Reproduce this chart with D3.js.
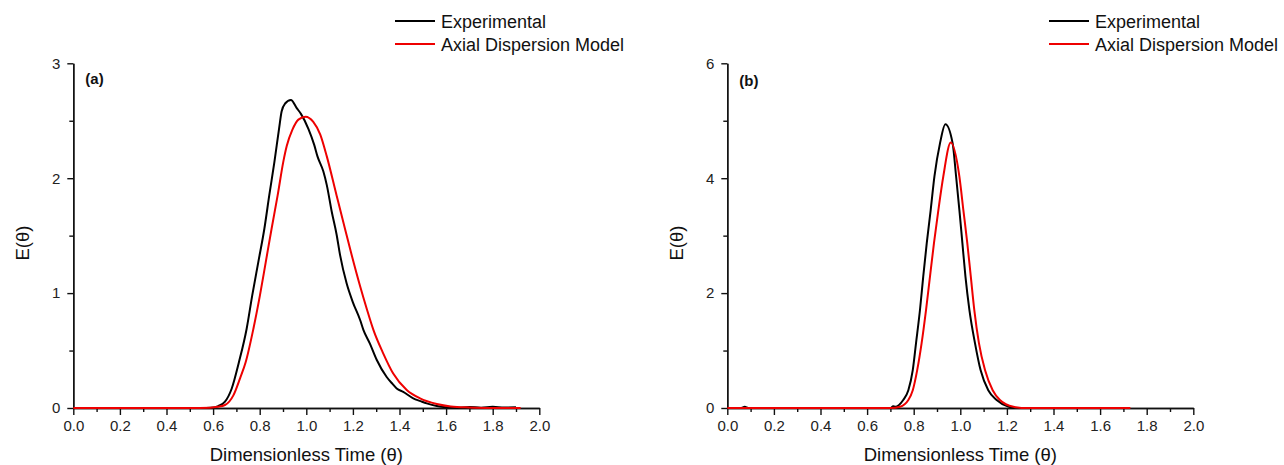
<!DOCTYPE html>
<html>
<head>
<meta charset="utf-8">
<script src="https://cdn.jsdelivr.net/npm/d3@7"></script>
<style>
  body { margin: 0; background: #fff; }
  svg { display: block; font-family: "Liberation Sans", Arial, sans-serif; }
  .axis path, .axis line { stroke: #111; stroke-width: 1.4; }
  .axis text { font-size: 15px; fill: #222; font-family: "Liberation Sans", Arial, sans-serif; }
</style>
</head>
<body>
<svg id="chart" width="1284" height="465"></svg>
<script>
// panel (a) data: dimensionless time vs E(theta)
const thetaExpA = [0, 0.55, 0.59, 0.622, 0.651, 0.68, 0.711, 0.744, 0.768, 0.794, 0.82, 0.841, 0.863, 0.883, 0.894, 0.909, 0.934, 0.959, 0.977, 1.009, 1.034, 1.048, 1.073, 1.088, 1.109, 1.13, 1.145, 1.173, 1.2, 1.231, 1.245, 1.273, 1.302, 1.345, 1.37, 1.388, 1.416, 1.459, 1.49, 1.517, 1.56, 1.6, 1.65, 1.7, 1.75, 1.8, 1.85, 1.9]
const eExpA = [0, 0, 0.002, 0.017, 0.055, 0.17, 0.40, 0.69, 0.98, 1.27, 1.56, 1.85, 2.14, 2.43, 2.58, 2.65, 2.68, 2.61, 2.56, 2.43, 2.29, 2.19, 2.06, 1.94, 1.71, 1.51, 1.33, 1.085, 0.92, 0.766, 0.68, 0.56, 0.42, 0.27, 0.21, 0.17, 0.14, 0.084, 0.06, 0.04, 0.017, 0.006, 0.002, 0.008, 0.003, 0.01, 0.004, 0.006]
const thetaModelA = [0, 0.5, 0.587, 0.62, 0.651, 0.687, 0.716, 0.74, 0.773, 0.801, 0.826, 0.851, 0.877, 0.901, 0.916, 0.94, 0.966, 0.997, 1.03, 1.06, 1.088, 1.13, 1.166, 1.195, 1.231, 1.26, 1.288, 1.33, 1.373, 1.431, 1.488, 1.56, 1.62, 1.7, 1.8, 1.92]
const eModelA = [0, 0, 0.003, 0.01, 0.026, 0.11, 0.26, 0.40, 0.69, 0.98, 1.27, 1.56, 1.85, 2.14, 2.28, 2.42, 2.51, 2.535, 2.49, 2.38, 2.19, 1.85, 1.56, 1.33, 1.06, 0.86, 0.68, 0.476, 0.30, 0.157, 0.084, 0.035, 0.014, 0.005, 0.001, 0]

// panel (b) data
const thetaExpB = [0, 0.06, 0.075, 0.09, 0.7, 0.712, 0.72, 0.755, 0.777, 0.796, 0.81, 0.827, 0.841, 0.856, 0.873, 0.889, 0.913, 0.936, 0.967, 0.982, 0.996, 1.009, 1.022, 1.039, 1.063, 1.087, 1.12, 1.156, 1.206, 1.23]
const eExpB = [0, 0, 0.02, 0, 0, 0.03, 0.023, 0.14, 0.31, 0.66, 1.13, 1.71, 2.29, 2.87, 3.45, 4.03, 4.61, 4.94, 4.61, 4.03, 3.45, 2.87, 2.29, 1.71, 1.13, 0.66, 0.31, 0.14, 0.023, 0]
const thetaModelB = [0, 0.7, 0.741, 0.777, 0.796, 0.815, 0.834, 0.853, 0.87, 0.887, 0.906, 0.927, 0.959, 0.996, 1.013, 1.03, 1.045, 1.06, 1.08, 1.106, 1.139, 1.17, 1.228, 1.285, 1.73]
const eModelB = [0, 0, 0.023, 0.14, 0.31, 0.66, 1.13, 1.71, 2.29, 2.87, 3.45, 4.03, 4.62, 4.03, 3.45, 2.87, 2.29, 1.71, 1.13, 0.66, 0.31, 0.14, 0.023, 0, 0]

// axis ticks
const xTicks = [0, 0.2, 0.4, 0.6, 0.8, 1.0, 1.2, 1.4, 1.6, 1.8, 2.0]
const yTicksA = [0, 1, 2, 3]
const yTicksB = [0, 2, 4, 6]
const seriesNames = ["Experimental", "Axial Dispersion Model"]
const seriesColors = ["#000000", "#ee0000"]

const svg = d3.select("#chart")

function panel(cfg) {
    const xScale = d3.scaleLinear().domain([0, 2]).range([cfg.left, cfg.left + 466])
    const yScale = d3.scaleLinear().domain([0, cfg.yMax]).range([408, 63.3])

    // minor ticks first, then major ones on top
    svg.append("g").attr("class", "axis")
        .attr("transform", "translate(0,408)")
        .call(d3.axisBottom(xScale).tickValues(d3.range(0.1, 2, 0.2)).tickSize(4).tickSizeOuter(0).tickFormat(""))
    svg.append("g").attr("class", "axis")
        .attr("transform", "translate(0,408)")
        .call(d3.axisBottom(xScale).tickValues(xTicks).tickSize(7).tickSizeOuter(0).tickPadding(5)
            .tickFormat(d3.format(".1f")))

    svg.append("g").attr("class", "axis")
        .attr("transform", "translate(" + cfg.left + ",0)")
        .call(d3.axisLeft(yScale).tickValues(cfg.minor).tickSize(4).tickSizeOuter(0).tickFormat(""))
    svg.append("g").attr("class", "axis")
        .attr("transform", "translate(" + cfg.left + ",0)")
        .call(d3.axisLeft(yScale).tickValues(cfg.yTicks).tickSize(6).tickSizeOuter(0).tickPadding(7)
            .tickFormat(d3.format("d")))

    const line = d3.line()
        .x(d => xScale(d[0]))
        .y(d => yScale(d[1]))
        .curve(d3.curveMonotoneX)

    const lines = [d3.zip(cfg.thetaExp, cfg.eExp), d3.zip(cfg.thetaModel, cfg.eModel)]
    lines.forEach((pts, i) => {
        svg.append("path")
            .attr("d", line(pts))
            .attr("fill", "none")
            .attr("stroke", seriesColors[i])
            .attr("stroke-width", 2)
            .attr("stroke-linejoin", "round")
    })

    // panel letter
    svg.append("text")
        .attr("x", cfg.left + 12).attr("y", cfg.letterY)
        .attr("font-size", 15).attr("font-weight", "bold").attr("fill", "#111")
        .text(cfg.letter)

    // axis titles
    svg.append("text")
        .attr("x", cfg.left + 233).attr("y", 461)
        .attr("text-anchor", "middle").attr("font-size", 18.5).attr("fill", "#111")
        .text("Dimensionless Time (θ)")
    svg.append("text")
        .attr("transform", "translate(" + cfg.yTitleX + ",243) rotate(-90)")
        .attr("text-anchor", "middle").attr("font-size", 18.5).attr("fill", "#111")
        .text("E(θ)")

    // legend
    seriesNames.forEach((name, i) => {
        const ly = 21 + i * 23
        svg.append("line")
            .attr("x1", cfg.legendX).attr("x2", cfg.legendX + 40)
            .attr("y1", ly).attr("y2", ly)
            .attr("stroke", seriesColors[i]).attr("stroke-width", 2)
        svg.append("text")
            .attr("x", cfg.legendX + 46).attr("y", ly + 6.5)
            .attr("font-size", 18).attr("fill", "#111")
            .text(name)
    })
}

panel({
    left: 73.3, yMax: 3, yTicks: yTicksA, minor: [0.5, 1.5, 2.5],
    thetaExp: thetaExpA, eExp: eExpA, thetaModel: thetaModelA, eModel: eModelA,
    letter: "(a)", letterY: 84, yTitleX: 29, legendX: 395
})
panel({
    left: 727.3, yMax: 6, yTicks: yTicksB, minor: [1, 3, 5],
    thetaExp: thetaExpB, eExp: eExpB, thetaModel: thetaModelB, eModel: eModelB,
    letter: "(b)", letterY: 86, yTitleX: 683, legendX: 1049
})
</script>
</body>
</html>
